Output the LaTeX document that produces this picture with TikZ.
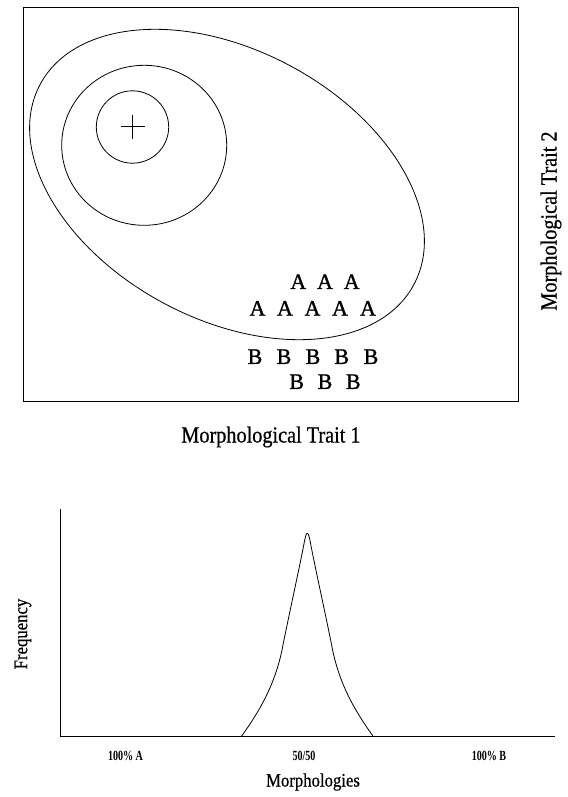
\documentclass[tikz,border=0pt]{standalone}
\usepackage{fontspec}
\setmainfont{Liberation Serif}
\newfontfamily\condserif[FakeStretch=0.88, FakeBold=0.6]{Liberation Serif}
\newfontfamily\tickserif[FakeStretch=0.72]{Liberation Serif}
\newfontfamily\letterserif[FakeBold=1.2]{Liberation Serif}
\usepackage{tikz}

\begin{document}
\begin{tikzpicture}[x=1pt, y=-1pt,
    curve/.style={line width=0.8pt},
    axislabel/.style={font=\condserif\fontsize{23}{27}\selectfont, inner sep=0pt},
    smalllabel/.style={font=\condserif\fontsize{19}{22}\selectfont, inner sep=0pt},
    ticklabel/.style={font=\tickserif\bfseries\fontsize{14}{16}\selectfont, inner sep=0pt},
    morph/.style={font=\letterserif\fontsize{22}{26}\selectfont, inner sep=0pt}]
    \useasboundingbox (0,0) rectangle (567,797);

    % Trait space
    \draw[line width=1.1pt] (23.3,7.3) rectangle (518.7,401.7);

    % Contours
    \draw[curve, rotate around={-28.2:(227,184.5)}] (227,184.5) ellipse [x radius=212, y radius=134.5];
    \draw[curve] (144.2,145.3) ellipse [x radius=82.5, y radius=80];
    \draw[curve] (132.5,127) circle [radius=36.2];
    \draw[line width=0.8pt] (120.7,126.7) -- (144.7,126.7);
    \draw[line width=0.8pt] (132.7,114.7) -- (132.7,138.7);

    % Morphologies A and B
    \foreach \x [count=\i] in {298.3,325,351.7}
        \node[morph] (a1-\i) at (\x,281.7) {A};
    \foreach \x [count=\i] in {257.5,285,312.5,340,368}
        \node[morph] (a2-\i) at (\x,308.3) {A};
    \foreach \x [count=\i] in {255,284,313,341.7,371}
        \node[morph] (b1-\i) at (\x,356.7) {B};
    \foreach \x [count=\i] in {296.7,325,353.3}
        \node[morph] (b2-\i) at (\x,381.7) {B};

    \node[axislabel] (trait1) at (271,437) {Morphological Trait 1};
    \node[axislabel, rotate=90] (trait2) at (551,221) {Morphological Trait 2};

    % Axes
    \draw[line width=0.9pt] (60,509.3) -- (60,736.5) -- (555,736.5);

    % Peak
    \draw[curve] (241.7,736) .. controls (258,713) and (276,685) .. (283.3,643.3)
        .. controls (291.5,603) and (301.5,558) .. (304.3,542)
        .. controls (305.5,536) and (306.3,533.3) .. (307.3,533.3)
        .. controls (308.3,533.3) and (309.1,536) .. (310.3,542)
        .. controls (313.1,558) and (323.1,603) .. (331.3,643.3)
        .. controls (338.6,685) and (356.6,713) .. (372.9,736);

    \node[ticklabel] (pureA) at (125.5,756) {100\% A};
    \node[ticklabel] (mixed) at (304,756) {50/50};
    \node[ticklabel] (pureB) at (489,756) {100\% B};

    \node[smalllabel] (morphs) at (313,782) {Morphologies};
    \node[smalllabel, rotate=90] (freq) at (23,634) {Frequency};
\end{tikzpicture}
\end{document}
